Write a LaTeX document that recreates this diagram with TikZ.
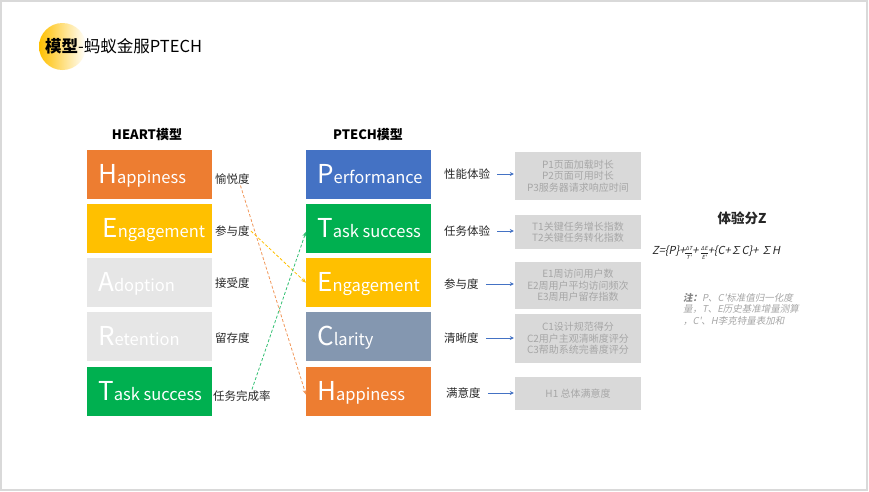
\documentclass[tikz,border=0pt]{standalone}
\usepackage{fontspec}
\setmainfont{Noto Sans CJK SC}
\newfontfamily\notefont{Noto Sans CJK SC}[FakeSlant=0.2]
\usetikzlibrary{arrows.meta}
\definecolor{hOrange}{HTML}{ED7D31}
\definecolor{hYellow}{HTML}{FFC000}
\definecolor{hPale}{HTML}{E6E6E6}
\definecolor{hGreen}{HTML}{00B050}
\definecolor{hBlue}{HTML}{4472C4}
\definecolor{hSlate}{HTML}{8497B0}
\definecolor{hMetric}{HTML}{D9D9D9}
\definecolor{hMetricText}{HTML}{A6A6A6}
\definecolor{hFrame}{HTML}{D9D9D9}
\definecolor{hDark}{HTML}{262626}
\newcommand{\bigword}[2]{\makebox[103pt][l]{{\fontsize{26}{26}\selectfont #1}{\fontsize{16.5}{16.5}\selectfont #2}}}
\newcommand{\zfrac}[2]{{\fontsize{5.5}{8.3}\selectfont\setlength{\tabcolsep}{0.8pt}\begin{tabular}[c]{@{}c@{}}#1\\\hline #2\end{tabular}}}
\tikzset{
	letterbox/.style={
			anchor=north west, minimum width=125pt, minimum height=49pt,
			inner sep=0pt, text=white, fill=#1, text height=21pt, text depth=4pt
		},
	metricbox/.style={
			fill=hMetric, minimum width=126pt, inner sep=0pt, text=hMetricText,
			align=center, font=\fontsize{10}{11.5}\selectfont
		},
	dimlabel/.style={anchor=west, inner sep=1pt, text=hDark, font=\fontsize{11.5}{12}\selectfont},
	maplink/.style={draw=#1, line width=0.8pt, dash pattern=on 3pt off 2pt, -{Stealth[length=5pt,width=4pt]}},
	metriclink/.style={draw=hBlue, line width=0.7pt, -{Stealth[length=4pt,width=4pt]}, shorten <=6pt, shorten >=1pt}
}

\begin{document}
\begin{tikzpicture}[x=1pt, y=-1pt]
        \useasboundingbox (0, 0) rectangle (869, 491);
        \draw[hFrame, line width=2pt] (1, 1) rectangle (867, 489.5);
        \shade[left color=hYellow, right color=white] (62.5, 46.5) circle (23.5);
        \node[anchor=west, inner sep=0pt, font=\fontsize{16.5}{17}\selectfont] (title) at (45, 46) {\textbf{模型}-蚂蚁金服PTECH};

        \node[font=\fontsize{13}{14}\selectfont\bfseries] (heart) at (147, 135) {HEART模型};
        \node[font=\fontsize{13}{14}\selectfont\bfseries] (ptech) at (368, 135) {PTECH模型};

        \node[letterbox=hOrange] (h1) at (87, 150) {\bigword{H}{appiness}};
        \node[letterbox=hYellow] (e1) at (87, 204) {\bigword{\,E}{ngagement}};
        \node[letterbox=hPale] (a1) at (87, 258) {\bigword{A}{doption}};
        \node[letterbox=hPale] (r1) at (87, 312) {\bigword{R}{etention}};
        \node[letterbox=hGreen] (t1) at (87, 367) {\bigword{T}{ask success}};

        \node[dimlabel] (l1) at (214, 179) {愉悦度};
        \node[dimlabel] (l2) at (214, 231) {参与度};
        \node[dimlabel] (l3) at (214, 283) {接受度};
        \node[dimlabel] (l4) at (214, 338) {留存度};
        \node[dimlabel] (l5) at (212, 396) {任务完成率};

        \node[letterbox=hBlue] (p2) at (306, 150) {\bigword{P}{erformance}};
        \node[letterbox=hGreen] (t2) at (306, 204) {\bigword{T}{ask success}};
        \node[letterbox=hYellow] (e2) at (306, 258) {\bigword{E}{ngagement}};
        \node[letterbox=hSlate] (c2) at (306, 312) {\bigword{C}{larity}};
        \node[letterbox=hOrange] (h2) at (306, 367) {\bigword{H}{appiness}};

        \node[dimlabel] (s1) at (443, 174) {性能体验};
        \node[dimlabel] (s2) at (443, 231) {任务体验};
        \node[dimlabel] (s3) at (443, 284) {参与度};
        \node[dimlabel] (s4) at (443, 338) {清晰度};
        \node[dimlabel] (s5) at (445, 393) {满意度};

        \node[metricbox, minimum height=48pt] (g1) at (578, 176) {P1页面加载时长\\P2页面可用时长\\P3服务器请求响应时间};
        \node[metricbox, minimum height=34pt] (g2) at (578, 232) {T1关键任务增长指数\\T2关键任务转化指数};
        \node[metricbox, minimum height=47pt] (g3) at (578, 285.5) {E1周访问用户数\\E2周用户平均访问频次\\E3周用户留存指数};
        \node[metricbox, minimum height=49pt] (g4) at (578, 338.5) {C1设计规范得分\\C2用户主观清晰度评分\\C3帮助系统完善度评分};
        \node[metricbox, minimum height=33pt] (g5) at (578, 393.5) {H1\ 总体满意度};

        \draw[metriclink] (s1.east) -- (g1.west |- s1.east);
        \draw[metriclink] (s2.east) -- (g2.west |- s2.east);
        \draw[metriclink] (s3.east) -- (g3.west |- s3.east);
        \draw[metriclink] (s4.east) -- (g4.west |- s4.east);
        \draw[metriclink] (s5.east) -- (g5.west |- s5.east);

        \draw[maplink=hOrange!80] ([xshift=8pt]l1.south) -- ([yshift=-3pt]h2.west);
        \draw[maplink=hYellow] (l2.east) -- (e2.west);
        \draw[maplink=hGreen!80] ([xshift=10pt]l5.north) -- ([yshift=-3pt]t2.west);

        \node[font=\fontsize{13.5}{14}\selectfont\bfseries, text=hDark] (zname) at (742, 218) {体验分Z};
        \node[anchor=west, inner sep=0pt, text=hDark, font=\notefont\fontsize{11}{11}\selectfont] (zform) at (652, 253)
            {Z=\{P\}+\zfrac{ΔT}{T'}+ \zfrac{ΔE}{E'}+\{C+∑C\}+ ∑H};
        \node[anchor=north west, inner sep=0pt, align=left, text=hMetricText, font=\notefont\fontsize{9.5}{11.5}\selectfont] (znote) at (683, 293)
            {{\color{gray}\bfseries 注：}P、C'标准值归一化度\\量，T、E历史基准增量测算\\，C'、H李克特量表加和};
    \end{tikzpicture}
\end{document}
